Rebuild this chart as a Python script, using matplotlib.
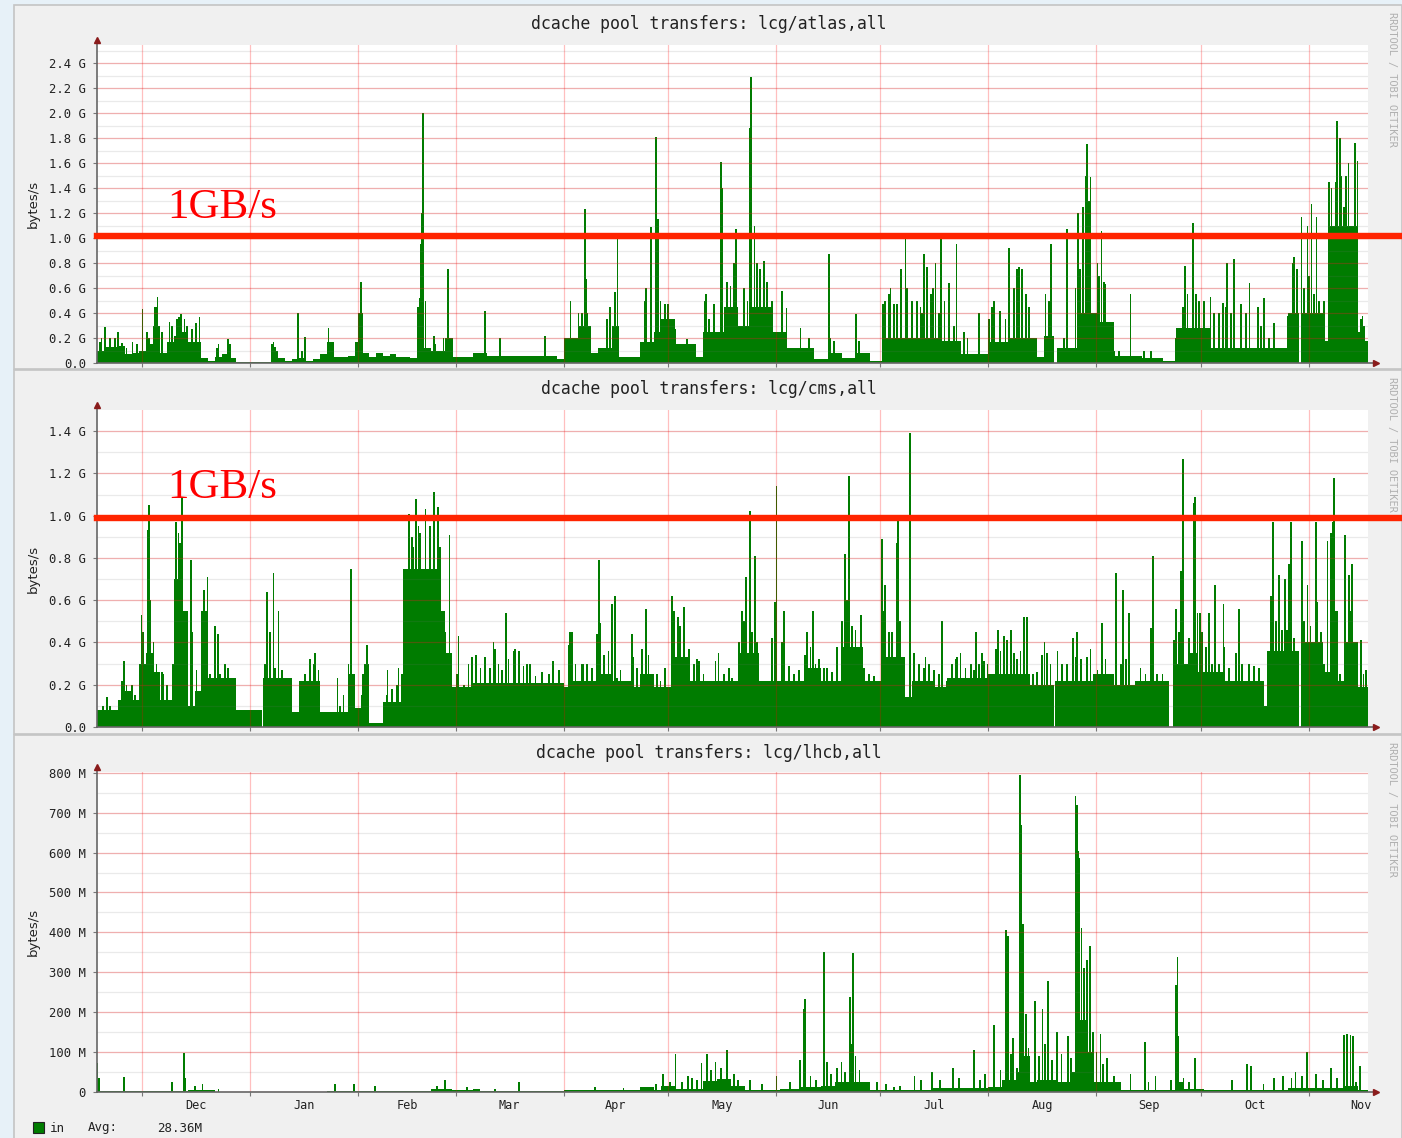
import numpy as np
import matplotlib
matplotlib.use('Agg')
from matplotlib import pyplot as plt
from matplotlib.patches import Rectangle

W, H = 1402, 1138

# time axis: days counted from the left edge of the graphs (18 Nov)
month_names = ['Dec', 'Jan', 'Feb', 'Mar', 'Apr', 'May', 'Jun', 'Jul', 'Aug', 'Sep', 'Oct', 'Nov']
month_days = [31, 31, 28, 31, 30, 31, 30, 31, 31, 30, 31, 30]
first_month_day = 13
total_days = 365

# ---- lcg/atlas (G bytes/s): step levels, tall spikes, smaller "grass" spikes
atlas_level_start = [0, 2, 6, 8, 10, 12, 14, 16, 18, 20, 22, 24, 26, 30, 32, 34, 36, 38, 40, 50,
                     52, 54, 56, 58, 60, 62, 64, 66, 68, 72, 74, 76, 78, 80, 82, 84, 86, 90, 92, 94,
                     96, 100, 102, 108, 112, 116, 132, 134, 138, 142, 144, 148, 150, 156, 160, 162, 166, 172, 174, 180,
                     184, 188, 194, 198, 206, 210, 214, 218, 222, 226, 242, 248, 256, 262, 270, 272, 274.8, 275.8, 282, 288,
                     292, 300, 306, 310, 320, 342, 345.2, 345.7, 352, 354, 362, 364]
atlas_level = [0.10, 0.13, 0.14, 0.07, 0.08, 0.10, 0.15, 0.30, 0.08, 0.17, 0.22, 0.25, 0.17, 0.04, 0.02, 0.05, 0.07, 0.04, 0.01, 0.10,
               0.04, 0.02, 0.03, 0.04, 0.02, 0.03, 0.07, 0.17, 0.05, 0.06, 0.17, 0.08, 0.05, 0.08, 0.06, 0.07, 0.05, 0.04, 0.45, 0.12,
               0.10, 0.20, 0.05, 0.08, 0.06, 0.06, 0.03, 0.20, 0.30, 0.08, 0.12, 0.30, 0.05, 0.17, 0.25, 0.35, 0.15, 0.05, 0.25, 0.45,
               0.30, 0.45, 0.25, 0.12, 0.03, 0.08, 0.04, 0.08, 0.02, 0.20, 0.18, 0.07, 0.17, 0.20, 0.05, 0.22, 0.00, 0.12, 0.40, 0.33,
               0.06, 0.04, 0.02, 0.28, 0.12, 0.40, 0.00, 0.40, 0.18, 1.10, 0.25, 0.18]
atlas_spike_day = [2.4, 6.1, 10.2, 11.4, 13.1, 17.4, 24.1, 29.4, 37.7, 50.7, 57.7, 59.8, 66.5, 75.2, 75.8, 93.0, 93.4, 93.7, 96.8, 100.8,
                   111.5, 115.8, 128.7, 140.1, 140.4, 149.5, 157.6, 159.2, 160.6, 161.1, 174.9, 179.2, 179.6, 183.6, 187.5, 187.9, 188.8, 210.3, 218.0, 227.9,
                   230.9, 232.2, 237.5, 238.4, 240.8, 242.4, 244.6, 246.8, 253.3, 257.6, 261.9, 264.7, 265.7, 274.0, 278.6, 281.7, 283.2, 283.9, 284.4, 285.3,
                   288.5, 289.6, 296.8, 312.4, 314.8, 319.8, 324.6, 326.5, 331.0, 335.2, 343.3, 345.9, 347.6, 348.8, 350.2, 356.2, 356.9, 359.4, 361.3, 362.0,
                   363.4]
atlas_spike = [0.29, 0.25, 0.17, 0.15, 0.43, 0.53, 0.39, 0.37, 0.19, 0.17, 0.40, 0.21, 0.28, 0.40, 0.65, 0.95, 1.20, 2.00, 0.22, 0.75,
               0.42, 0.20, 0.22, 1.23, 0.67, 0.99, 0.60, 1.09, 1.81, 1.15, 0.55, 1.61, 1.40, 1.07, 1.88, 2.29, 1.10, 0.87, 0.39, 0.60,
               0.75, 0.99, 0.87, 0.77, 0.80, 0.99, 0.64, 0.95, 0.40, 0.50, 0.92, 0.77, 0.75, 0.95, 1.07, 1.20, 1.25, 1.50, 1.75, 1.49,
               1.06, 0.63, 0.55, 0.78, 1.12, 0.53, 0.80, 0.83, 0.64, 0.52, 0.80, 1.17, 1.10, 1.27, 1.17, 1.94, 1.80, 1.60, 1.76, 1.62,
               0.38]
atlas_grass_day = [0.9, 1.3, 3.7, 5.2, 7.1, 8.5, 14.3, 15.0, 16.5, 17.0, 18.6, 20.8, 21.5, 22.9, 23.6, 25.1, 25.8, 27.2, 28.4, 34.4,
                   34.9, 38.2, 50.2, 51.1, 58.8, 76.1, 92.8, 94.3, 97.1, 99.5, 101.9, 136.0, 138.3, 139.2, 140.7, 146.5, 147.4, 148.8, 157.4, 160.8,
                   161.8, 163.2, 164.0, 166.1, 169.4, 174.7, 175.7, 177.1, 181.0, 181.9, 182.9, 185.8, 186.8, 189.6, 190.5, 191.5, 192.4, 193.9, 196.8, 198.0,
                   202.0, 204.4, 210.6, 211.6, 218.8, 225.8, 226.4, 227.4, 228.8, 229.8, 232.7, 234.1, 235.5, 236.5, 236.9, 239.4, 240.1, 241.8, 243.4, 246.1,
                   249.0, 250.0, 256.1, 257.1, 259.3, 260.9, 263.3, 264.3, 266.7, 267.6, 272.4, 273.4, 277.6, 281.0, 282.3, 284.9, 287.3, 287.8, 289.2, 292.0,
                   293.5, 300.7, 302.6, 309.8, 311.8, 313.2, 315.5, 316.5, 318.0, 320.8, 322.3, 323.3, 324.2, 325.7, 328.5, 330.0, 333.4, 334.3, 336.6, 338.1,
                   341.9, 343.8, 344.7, 346.6, 348.0, 349.5, 350.9, 352.4, 353.8, 354.5, 355.7, 357.3, 358.1, 358.6, 360.7, 363.0, 363.9]
atlas_grass = [0.17, 0.20, 0.20, 0.20, 0.16, 0.12, 0.25, 0.20, 0.45, 0.45, 0.25, 0.33, 0.30, 0.35, 0.37, 0.35, 0.30, 0.27, 0.32, 0.12,
               0.15, 0.15, 0.15, 0.13, 0.10, 0.40, 0.52, 0.50, 0.15, 0.20, 0.20, 0.50, 0.40, 0.40, 0.40, 0.35, 0.45, 0.57, 0.50, 0.55,
               0.50, 0.47, 0.47, 0.27, 0.19, 0.50, 0.35, 0.47, 0.65, 0.62, 0.80, 0.60, 0.50, 0.80, 0.75, 0.82, 0.65, 0.50, 0.58, 0.44,
               0.28, 0.20, 0.20, 0.18, 0.18, 0.47, 0.50, 0.55, 0.47, 0.47, 0.60, 0.50, 0.50, 0.45, 0.40, 0.55, 0.60, 0.40, 0.50, 0.30,
               0.25, 0.20, 0.35, 0.45, 0.42, 0.35, 0.60, 0.75, 0.55, 0.45, 0.55, 0.50, 0.20, 0.60, 0.75, 1.30, 0.80, 0.70, 0.65, 0.10,
               0.10, 0.10, 0.10, 0.20, 0.45, 0.55, 0.55, 0.50, 0.50, 0.40, 0.40, 0.48, 0.45, 0.40, 0.47, 0.40, 0.45, 0.30, 0.20, 0.32,
               0.38, 0.85, 0.75, 0.60, 0.70, 0.55, 0.50, 0.50, 1.45, 1.40, 1.45, 1.50, 1.25, 1.50, 0.50, 0.35, 0.30]

# ---- lcg/cms (G bytes/s)
cms_level_start = [0, 6, 8, 10, 12, 14, 16, 18, 22, 24, 26, 28, 30, 32, 40, 47.3, 47.8, 56, 58, 64,
                   72, 74, 76, 78, 82, 88, 98, 100, 102, 108, 134, 136, 144, 148, 154, 156, 160, 166, 170, 184,
                   190, 204, 208, 214, 220, 226, 232, 234, 240, 244, 256, 268, 274.8, 275.2, 286, 292, 298, 307.9, 309, 314,
                   316, 324, 335, 336, 345.2, 345.7, 352, 354, 356, 358, 362]
cms_level = [0.08, 0.13, 0.17, 0.13, 0.30, 0.35, 0.26, 0.13, 0.70, 0.55, 0.10, 0.17, 0.55, 0.23, 0.08, 0.00, 0.23, 0.07, 0.22, 0.07,
             0.25, 0.09, 0.25, 0.02, 0.12, 0.75, 0.55, 0.35, 0.19, 0.21, 0.19, 0.22, 0.25, 0.22, 0.19, 0.25, 0.19, 0.33, 0.22, 0.35,
             0.22, 0.28, 0.22, 0.38, 0.22, 0.33, 0.14, 0.22, 0.19, 0.23, 0.25, 0.20, 0.00, 0.22, 0.25, 0.20, 0.22, 0.00, 0.30, 0.35,
             0.26, 0.22, 0.10, 0.36, 0.00, 0.40, 0.26, 0.55, 0.22, 0.40, 0.19]
cms_spike_day = [2.8, 7.8, 12.8, 14.6, 14.9, 15.2, 18.6, 22.7, 23.9, 24.5, 27.0, 31.7, 33.9, 34.7, 48.8, 50.7, 52.1, 62.6, 69.1, 72.2,
                 72.9, 77.5, 83.4, 86.6, 89.5, 91.7, 94.3, 96.8, 97.9, 101.2, 103.8, 108.8, 113.9, 117.4, 120.1, 124.4, 135.9, 136.5, 139.7, 144.1,
                 144.5, 147.9, 148.7, 153.6, 157.7, 165.1, 166.8, 168.5, 170.0, 172.3, 178.5, 186.4, 187.6, 188.9, 194.8, 195.1, 197.2, 203.9, 205.6, 214.8,
                 215.9, 219.3, 225.5, 226.4, 229.8, 230.0, 233.4, 242.7, 247.0, 252.5, 254.2, 258.8, 260.4, 262.4, 266.2, 267.1, 272.1, 280.3, 281.5, 285.3,
                 288.7, 292.7, 294.6, 296.4, 302.6, 303.3, 309.8, 311.2, 311.8, 314.9, 315.3, 316.8, 319.3, 321.0, 323.5, 328.0, 337.8, 339.5, 341.1, 342.3,
                 342.8, 346.0, 347.6, 350.0, 350.5, 353.4, 354.4, 354.8, 355.3, 358.3, 359.5, 360.5, 363.0, 364.4]
cms_spike = [0.14, 0.31, 0.53, 0.93, 1.05, 0.60, 0.26, 0.97, 0.87, 1.09, 0.79, 0.71, 0.48, 0.44, 0.64, 0.73, 0.55, 0.35, 0.23, 0.30,
             0.75, 0.39, 0.27, 0.28, 1.01, 1.08, 1.03, 1.11, 1.04, 0.91, 0.43, 0.34, 0.40, 0.54, 0.37, 0.30, 0.45, 0.45, 0.30, 0.79,
             0.49, 0.58, 0.62, 0.44, 0.56, 0.62, 0.52, 0.57, 0.37, 0.32, 0.35, 0.71, 1.02, 0.81, 0.59, 1.14, 0.55, 0.45, 0.55, 0.82,
             1.19, 0.53, 0.89, 0.67, 0.87, 0.98, 1.39, 0.50, 0.33, 0.45, 0.35, 0.46, 0.43, 0.46, 0.52, 0.52, 0.40, 0.42, 0.45, 0.37,
             0.49, 0.73, 0.65, 0.54, 0.47, 0.81, 0.56, 0.74, 1.27, 1.06, 1.09, 0.54, 0.54, 0.67, 0.58, 0.56, 0.97, 0.72, 0.70, 0.77,
             0.97, 0.88, 0.67, 0.97, 0.59, 0.88, 0.92, 0.97, 1.18, 0.91, 0.72, 0.77, 0.41, 0.27]
cms_grass_day = [0.9, 1.8, 3.7, 7.1, 8.5, 10.0, 10.9, 13.3, 16.2, 17.1, 19.1, 20.0, 21.9, 23.4, 25.8, 27.2, 28.6, 30.7, 32.5, 35.3,
                 36.8, 37.7, 48.3, 49.7, 51.1, 53.1, 58.8, 59.8, 61.2, 62.2, 63.6, 69.8, 70.8, 76.1, 77.0, 78.0, 83.2, 84.7, 86.1, 87.5,
                 90.4, 90.9, 92.3, 92.8, 95.7, 98.6, 100.0, 103.4, 105.3, 106.7, 107.7, 110.1, 111.5, 112.9, 114.2, 115.3, 116.3, 118.2, 119.6, 121.1,
                 122.5, 123.5, 125.9, 127.8, 129.7, 130.9, 132.6, 135.4, 137.4, 139.3, 140.7, 142.1, 143.6, 145.5, 146.9, 149.3, 150.3, 154.1, 155.1, 156.5,
                 158.4, 160.8, 161.8, 163.2, 165.6, 167.5, 169.4, 171.4, 172.8, 174.2, 177.6, 180.0, 181.4, 182.4, 184.3, 185.2, 185.7, 188.1, 189.6, 190.0,
                 192.4, 193.9, 196.7, 198.7, 200.1, 201.5, 203.4, 204.9, 206.3, 207.3, 208.7, 209.7, 211.1, 212.5, 214.0, 215.4, 216.9, 217.8, 218.8, 220.2,
                 221.6, 223.1, 226.0, 227.4, 228.4, 230.7, 234.6, 236.0, 237.5, 237.9, 238.9, 240.3, 241.8, 244.2, 245.6, 246.6, 248.0, 249.4, 250.9, 251.8,
                 253.3, 254.7, 255.7, 258.1, 259.5, 261.4, 263.4, 264.3, 265.2, 268.9, 269.9, 271.4, 272.8, 273.8, 275.8, 277.2, 278.6, 281.2, 282.6, 284.4,
                 287.3, 289.6, 291.1, 294.0, 295.4, 297.8, 299.7, 301.1, 304.5, 306.0, 309.3, 310.7, 312.6, 313.6, 316.0, 317.4, 318.4, 320.3, 322.2, 323.6,
                 325.1, 327.0, 328.9, 330.8, 332.3, 333.8, 337.1, 338.5, 340.4, 341.8, 343.7, 346.6, 348.5, 351.4, 352.3, 356.0, 357.0, 358.4, 359.9, 361.8,
                 363.7]
cms_grass = [0.08, 0.10, 0.10, 0.22, 0.20, 0.20, 0.15, 0.45, 0.40, 0.30, 0.25, 0.20, 0.30, 0.92, 0.20, 0.45, 0.27, 0.65, 0.25, 0.25,
             0.30, 0.28, 0.30, 0.45, 0.28, 0.27, 0.20, 0.25, 0.32, 0.30, 0.27, 0.10, 0.15, 0.15, 0.30, 0.30, 0.15, 0.18, 0.20, 0.25,
             0.90, 0.85, 0.95, 0.92, 0.95, 0.85, 0.45, 0.25, 0.20, 0.30, 0.33, 0.28, 0.33, 0.28, 0.37, 0.30, 0.27, 0.32, 0.36, 0.36,
             0.29, 0.30, 0.24, 0.26, 0.25, 0.31, 0.27, 0.39, 0.30, 0.30, 0.30, 0.28, 0.44, 0.34, 0.36, 0.23, 0.27, 0.33, 0.28, 0.37,
             0.34, 0.25, 0.22, 0.28, 0.55, 0.48, 0.31, 0.30, 0.31, 0.25, 0.31, 0.25, 0.28, 0.23, 0.40, 0.55, 0.50, 0.45, 0.40, 0.35,
             0.20, 0.42, 0.40, 0.29, 0.25, 0.27, 0.34, 0.38, 0.30, 0.32, 0.28, 0.28, 0.26, 0.38, 0.50, 0.60, 0.48, 0.46, 0.30, 0.28,
             0.25, 0.24, 0.55, 0.45, 0.45, 0.50, 0.35, 0.30, 0.28, 0.33, 0.30, 0.27, 0.25, 0.22, 0.30, 0.32, 0.35, 0.28, 0.30, 0.27,
             0.30, 0.31, 0.30, 0.37, 0.36, 0.41, 0.35, 0.32, 0.36, 0.25, 0.26, 0.34, 0.35, 0.30, 0.36, 0.30, 0.30, 0.33, 0.32, 0.33,
             0.27, 0.32, 0.25, 0.30, 0.32, 0.20, 0.28, 0.25, 0.25, 0.25, 0.41, 0.45, 0.30, 0.42, 0.54, 0.45, 0.38, 0.30, 0.30, 0.38,
             0.28, 0.35, 0.30, 0.30, 0.29, 0.28, 0.62, 0.50, 0.46, 0.46, 0.42, 0.50, 0.48, 0.45, 0.30, 0.55, 0.25, 0.40, 0.55, 0.20,
             0.25]

# ---- lcg/lhcb (M bytes/s)
lhcb_level_start = [0, 26, 34, 66, 82, 96, 102, 108, 110, 134, 156, 160, 162, 166, 174, 178, 182, 186, 196, 202,
                    208, 212, 222, 240, 256, 260, 264, 266, 268, 270, 276, 280, 282, 284, 286, 294, 310, 312, 318, 342,
                    358, 362]
lhcb_level = [2, 5, 1, 3, 2, 8, 6, 8, 2, 4, 12, 5, 16, 8, 28, 32, 16, 6, 8, 12,
              16, 25, 5, 10, 12, 30, 50, 90, 25, 30, 25, 50, 180, 100, 25, 5, 25, 8, 5, 10,
              16, 5]
lhcb_spike_day = [0.1, 0.5, 7.8, 21.6, 24.9, 25.3, 28.2, 30.3, 34.9, 68.4, 73.9, 79.9, 97.6, 100.0, 106.2, 114.4, 121.1, 143.1, 151.2, 162.5,
                  166.1, 168.0, 169.7, 173.6, 175.1, 177.6, 180.9, 182.9, 187.6, 191.0, 195.1, 201.8, 203.0, 203.4, 204.9, 208.7, 208.9, 209.7, 213.8, 216.2,
                  216.6, 217.1, 217.8, 224.1, 228.9, 234.8, 236.7, 239.8, 245.8, 251.8, 257.6, 261.1, 261.7, 263.0, 265.0, 265.5, 265.9, 266.8, 269.3, 271.5,
                  273.1, 275.6, 278.9, 281.0, 281.5, 281.8, 282.1, 282.7, 283.4, 284.4, 285.2, 286.1, 288.2, 290.1, 296.8, 300.9, 304.0, 309.8, 310.3, 310.5,
                  315.3, 330.3, 331.3, 338.0, 340.6, 344.2, 347.4, 350.0, 354.3, 358.1, 358.9, 360.0, 360.6, 362.7]
lhcb_spike = [72, 35, 38, 25, 98, 35, 15, 20, 8, 20, 20, 15, 15, 30, 12, 8, 25, 12, 10, 45,
              94, 25, 40, 72, 94, 75, 105, 45, 30, 20, 40, 80, 208, 232, 40, 352, 350, 75, 75, 239,
              120, 348, 90, 25, 12, 40, 30, 50, 60, 105, 168, 406, 390, 135, 795, 668, 420, 195, 229, 208,
              278, 150, 140, 743, 720, 603, 586, 410, 310, 330, 367, 150, 145, 85, 45, 126, 40, 267, 339, 140,
              85, 70, 65, 35, 40, 50, 101, 45, 60, 143, 145, 142, 140, 65]
lhcb_grass_day = [160.5, 164.5, 170.8, 172.3, 176.3, 179.2, 184.0, 199.0, 206.5, 210.8, 212.5, 214.8, 219.0, 226.5, 230.5, 242.0, 247.5, 253.5, 255.0, 259.5,
                  262.5, 264.2, 267.5, 270.5, 272.3, 274.3, 277.0, 279.8, 287.0, 289.0, 292.0, 302.0, 308.5, 312.0, 313.5, 326.0, 335.0, 343.0, 346.0, 352.0,
                  356.0, 361.5]
lhcb_grass = [20, 25, 35, 30, 55, 60, 30, 25, 30, 45, 60, 50, 55, 20, 15, 30, 35, 30, 45, 55,
              95, 60, 110, 90, 120, 80, 95, 85, 100, 70, 40, 25, 30, 35, 25, 30, 20, 35, 40, 30,
              35, 25]

titles = ['dcache pool transfers: lcg/atlas,all',
          'dcache pool transfers: lcg/cms,all',
          'dcache pool transfers: lcg/lhcb,all']
atlas_ticks = [0.0, 0.2, 0.4, 0.6, 0.8, 1.0, 1.2, 1.4, 1.6, 1.8, 2.0, 2.2, 2.4]
cms_ticks = [0.0, 0.2, 0.4, 0.6, 0.8, 1.0, 1.2, 1.4]
lhcb_ticks = [0, 100, 200, 300, 400, 500, 600, 700, 800]
avg_text = '28.36M'

green = '#007c00'
mono = 'DejaVu Sans Mono'

fig = plt.figure(figsize=(W / 100, H / 100), dpi=100, facecolor='#e7f1f8')


def px(x, y):
    return x / W, 1 - y / H


# panel backgrounds (behind the axes)
for top, bottom in [(5, 369), (370, 734), (735, 1140)]:
    fig.patches.append(Rectangle(px(14, bottom), (W - 14) / W, (bottom - top) / H,
                                 transform=fig.transFigure, facecolor='#f0f0f0',
                                 edgecolor='#c4c4c4', linewidth=1.2, zorder=-5))

month_starts = first_month_day + np.concatenate([[0], np.cumsum(month_days[:-1])])
month_mids = month_starts + np.array(month_days) / 2


def draw_panel(rect, starts, levels, spike_sets, top, ticks, minor_step, labels):
    ax = fig.add_axes(rect)
    ax.set_facecolor('white')
    widths = np.diff(starts + [total_days])
    ax.bar(starts, levels, width=widths, align='edge', color=green, linewidth=0, zorder=2)
    for days, vals in spike_sets:
        ax.bar(days, vals, width=0.5, color=green, linewidth=0, zorder=2)
    ax.set_xlim(0, total_days)
    ax.set_ylim(0, top)
    for v in np.arange(0, top, minor_step):
        ax.axhline(v, color=(0.45, 0.45, 0.45, 0.15), lw=0.9, zorder=3)
    for v in ticks:
        ax.axhline(v, color=(1, 0, 0, 0.25), lw=0.9, zorder=4)
    for d in month_starts:
        ax.axvline(d, color=(1, 0, 0, 0.25), lw=0.9, zorder=4)
    for s in ['top', 'right', 'bottom', 'left']:
        ax.spines[s].set_visible(False)
    ax.plot([0, 1.006], [0, 0], color='#666666', lw=1.2, transform=ax.transAxes, clip_on=False, zorder=5)
    ax.plot([0, 0], [0, 1.016], color='#666666', lw=1.2, transform=ax.transAxes, clip_on=False, zorder=5)
    ax.plot(0, 1.016, marker='^', ms=4.5, color='#8a1c1c', transform=ax.transAxes, clip_on=False, zorder=6)
    ax.plot(1.006, 0, marker='>', ms=4.5, color='#8a1c1c', transform=ax.transAxes, clip_on=False, zorder=6)
    ax.set_yticks(ticks)
    ax.set_yticklabels(labels, family=mono, fontsize=8.8, color='#222222')
    ax.tick_params(axis='y', length=3, width=0.8, color='#777777', pad=5)
    ax.set_xticks(month_starts)
    ax.tick_params(axis='x', length=3, width=0.8, color='#777777')
    ax.set_xticklabels([])
    ax.set_ylabel('bytes/s', fontsize=9.5, color='#222222', labelpad=7)
    return ax


ax1 = draw_panel([97 / W, 1 - 363 / H, 1271 / W, 318 / H], atlas_level_start, atlas_level,
                 [(atlas_grass_day, atlas_grass), (atlas_spike_day, atlas_spike)], 2.544, atlas_ticks, 0.1,
                 ['0.0'] + ['%.1f G' % v for v in atlas_ticks[1:]])
ax2 = draw_panel([97 / W, 1 - 727 / H, 1271 / W, 317 / H], cms_level_start, cms_level,
                 [(cms_grass_day, cms_grass), (cms_spike_day, cms_spike)], 1.5, cms_ticks, 0.1,
                 ['0.0'] + ['%.1f G' % v for v in cms_ticks[1:]])
ax3 = draw_panel([97 / W, 1 - 1092 / H, 1271 / W, 320 / H], lhcb_level_start, lhcb_level,
                 [(lhcb_grass_day, lhcb_grass), (lhcb_spike_day, lhcb_spike)], 802, lhcb_ticks, 50,
                 ['0'] + ['%d M' % v for v in lhcb_ticks[1:]])

# month names centred on each month
for d, name in zip(month_mids, month_names):
    ax3.text(d, -0.042, name, transform=ax3.get_xaxis_transform(), ha='center', va='center',
             family=mono, fontsize=8.6, color='#222222')

# 1 GB/s marker lines
for ax, level in [(ax1, 1.013), (ax2, 0.99)]:
    ax.axhline(level, xmin=0, xmax=(W - 97) / 1271, color='#ff2400', lw=4.6, clip_on=False, zorder=7)

for y in [218, 498]:
    fig.text(*px(167, y), '1GB/s', family='Liberation Serif', fontsize=31, color='#ff0000', va='baseline')

for y, t in zip([24, 389, 753], titles):
    fig.text(*px(709, y), t, ha='center', va='center', family=mono, fontsize=11.9, color='#222222')

for y in [12, 377, 742]:
    fig.text(*px(1392, y), 'RRDTOOL / TOBI OETIKER', rotation=270, ha='center', va='top',
             family=mono, fontsize=7.4, color='#b0b0b0')

# legend line
fig.patches.append(Rectangle(px(33, 1133), 11 / W, 11 / H, transform=fig.transFigure,
                             facecolor=green, edgecolor='#222222', linewidth=0.8))
fig.text(*px(50, 1128), 'in', va='center', family=mono, fontsize=9, color='#222222')
fig.text(*px(88, 1128), 'Avg:', va='center', family=mono, fontsize=9, color='#222222')
fig.text(*px(157, 1128), avg_text, va='center', family=mono, fontsize=9, color='#222222')

fig.savefig('out.png', dpi=100, facecolor=fig.get_facecolor())
